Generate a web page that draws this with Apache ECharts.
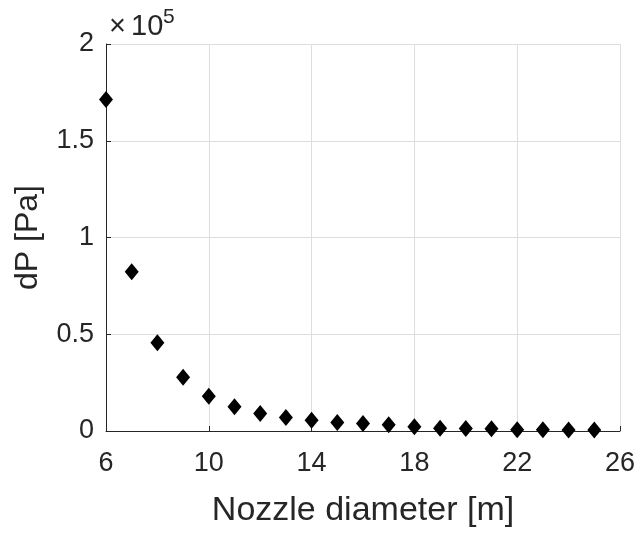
<!DOCTYPE html>
<html>
<head>
<meta charset="utf-8">
<script src="https://cdn.jsdelivr.net/npm/echarts@6/dist/echarts.min.js"></script>
<style>
  html, body { margin: 0; padding: 0; background: #ffffff; }
  #chart { width: 638px; height: 533px; }
</style>
</head>
<body>
<div id="chart"></div>
<script>
// Pressure drop across the nozzle for each nozzle diameter
const diameters = [6, 7, 8, 9, 10, 11, 12, 13, 14, 15, 16, 17, 18, 19, 20, 21, 22, 23, 24, 25];
const pressureDrop = [171300, 82300, 45600, 27800, 17900, 12500, 9000, 7000, 5600, 4400,
                      3900, 3200, 2200, 1400, 1300, 1200, 700, 600, 500, 500];
const xTicks = [6, 10, 14, 18, 22, 26];
const yTicks = [0, 50000, 100000, 150000, 200000];
const yScale = 1e5;

const ink = '#262626';
const font = 'Liberation Sans, Arial, Helvetica, sans-serif';

const chart = echarts.init(document.getElementById('chart'), null, { renderer: 'canvas' });

chart.setOption({
  backgroundColor: '#ffffff',
  animation: false,
  grid: { left: 106, right: 18, top: 44, bottom: 96, containLabel: false },
  xAxis: {
    type: 'value',
    min: xTicks[0],
    max: xTicks[xTicks.length - 1],
    name: 'Nozzle diameter [m]',
    nameLocation: 'middle',
    nameGap: 63,
    nameTextStyle: { color: ink, fontSize: 34, fontFamily: font },
    axisLine: { show: true, onZero: false, lineStyle: { color: ink, width: 1 } },
    axisTick: { show: true, inside: true, length: 5, customValues: xTicks, lineStyle: { color: ink } },
    axisLabel: { color: ink, fontSize: 27, fontFamily: font, margin: 19, customValues: xTicks },
    splitLine: { show: true, lineStyle: { color: '#dedede', width: 1 } }
  },
  yAxis: {
    type: 'value',
    min: yTicks[0],
    max: yTicks[yTicks.length - 1],
    interval: yTicks[1] - yTicks[0],
    name: 'dP [Pa]',
    nameLocation: 'middle',
    nameGap: 62,
    nameTextStyle: { color: ink, fontSize: 32, fontFamily: font },
    axisLine: { show: true, onZero: false, lineStyle: { color: ink, width: 1 } },
    axisTick: { show: true, inside: true, length: 5, lineStyle: { color: ink } },
    axisLabel: {
      color: ink, fontSize: 27, fontFamily: font, margin: 12,
      padding: [0, 0, 6, 0],
      formatter: v => String(+(v / yScale).toFixed(2))
    },
    splitLine: { show: true, lineStyle: { color: '#dedede', width: 1 } }
  },
  graphic: [
    // exponent marker for the y axis: ×10^5
    {
      type: 'text', x: 109, y: 41,
      style: { text: '×', fill: ink, fontSize: 29, fontFamily: font, verticalAlign: 'bottom', align: 'left' }
    },
    {
      type: 'text', x: 131, y: 41,
      style: { text: '10', fill: ink, fontSize: 29, fontFamily: font, verticalAlign: 'bottom', align: 'left' }
    },
    {
      type: 'text', x: 163, y: 28,
      style: { text: '5', fill: ink, fontSize: 21, fontFamily: font, verticalAlign: 'bottom', align: 'left' }
    }
  ],
  series: [{
    type: 'scatter',
    data: diameters.map((d, i) => [d, pressureDrop[i]]),
    symbol: 'diamond',
    symbolSize: [14, 17],
    itemStyle: { color: '#000000', opacity: 1 },
    clip: false
  }]
});
</script>
</body>
</html>
